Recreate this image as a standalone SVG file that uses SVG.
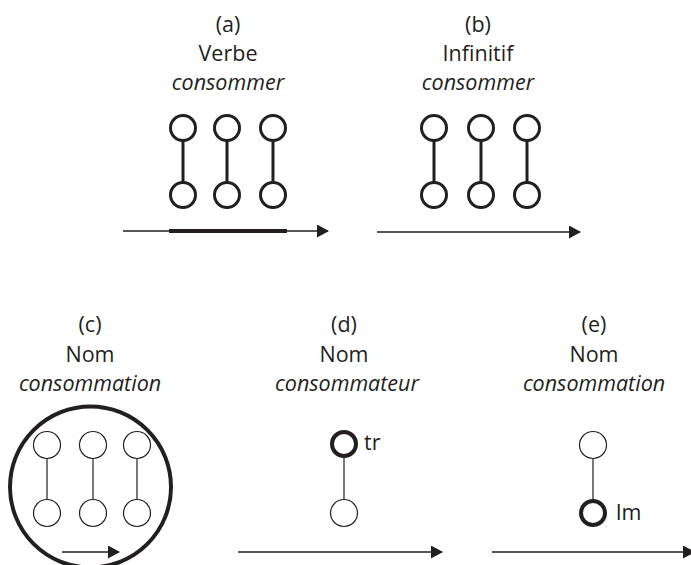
<svg xmlns="http://www.w3.org/2000/svg" width="691" height="565" viewBox="0 0 691 565">
<style>
.t{font-family:"Open Sans","Liberation Sans",sans-serif;font-size:21.5px;fill:#231f20;text-anchor:middle}
.i{font-style:italic}
.s{font-family:"Open Sans","Liberation Sans",sans-serif;font-size:21.5px;fill:#231f20}
.bold{fill:#fff;stroke:#231f20;stroke-width:3}
.thick{fill:#fff;stroke:#231f20;stroke-width:4}
.thin{fill:#fff;stroke:#231f20;stroke-width:1.2}
.lb{stroke:#231f20;stroke-width:3}
.ln{stroke:#231f20;stroke-width:1.2}
.ax{stroke:#231f20;stroke-width:1.3;fill:none;marker-end:url(#ah)}
</style>
<defs>
<marker id="ah" markerUnits="userSpaceOnUse" markerWidth="12" markerHeight="14" refX="11" refY="6.5" orient="auto">
<path d="M0,0 L12,6.5 L0,13 Z" fill="#231f20"/>
</marker>
</defs>
<g id="panel-a">
<text class="t" x="228" y="32">(a)</text>
<text class="t" x="228" y="61">Verbe</text>
<text class="t i" x="228" y="90">consommer</text>
<line class="lb" x1="183" y1="128" x2="183" y2="195"/>
<line class="lb" x1="227" y1="128" x2="227" y2="195"/>
<line class="lb" x1="273" y1="128" x2="273" y2="195"/>
<circle class="bold" cx="183" cy="128" r="12.5"/>
<circle class="bold" cx="227" cy="128" r="12.5"/>
<circle class="bold" cx="273" cy="128" r="12.5"/>
<circle class="bold" cx="183" cy="195" r="12.5"/>
<circle class="bold" cx="227" cy="195" r="12.5"/>
<circle class="bold" cx="273" cy="195" r="12.5"/>
</g>
<g id="panel-b">
<text class="t" x="478" y="32">(b)</text>
<text class="t" x="478" y="61">Infinitif</text>
<text class="t i" x="478" y="90">consommer</text>
<line class="lb" x1="434" y1="128" x2="434" y2="195"/>
<line class="lb" x1="481" y1="128" x2="481" y2="195"/>
<line class="lb" x1="527" y1="128" x2="527" y2="195"/>
<circle class="bold" cx="434" cy="128" r="12.5"/>
<circle class="bold" cx="481" cy="128" r="12.5"/>
<circle class="bold" cx="527" cy="128" r="12.5"/>
<circle class="bold" cx="434" cy="195" r="12.5"/>
<circle class="bold" cx="481" cy="195" r="12.5"/>
<circle class="bold" cx="527" cy="195" r="12.5"/>
</g>
<g id="panel-c">
<text class="t" x="90" y="332">(c)</text>
<text class="t" x="90" y="362">Nom</text>
<text class="t i" x="90" y="391">consommation</text>
<circle class="thick" cx="90.5" cy="487" r="80.5"/>
<line class="ln" x1="47" y1="445" x2="47" y2="513"/>
<line class="ln" x1="93" y1="445" x2="93" y2="513"/>
<line class="ln" x1="137" y1="445" x2="137" y2="513"/>
<circle class="thin" cx="47" cy="445" r="13.5"/>
<circle class="thin" cx="93" cy="445" r="13.5"/>
<circle class="thin" cx="137" cy="445" r="13.5"/>
<circle class="thin" cx="47" cy="513" r="13.5"/>
<circle class="thin" cx="93" cy="513" r="13.5"/>
<circle class="thin" cx="137" cy="513" r="13.5"/>
</g>
<g id="panel-d">
<text class="t" x="344" y="332">(d)</text>
<text class="t" x="344" y="362">Nom</text>
<text class="t i" x="347" y="391">consommateur</text>
<line class="ln" x1="344" y1="444" x2="344" y2="513"/>
<circle class="thick" cx="344" cy="444" r="12"/>
<circle class="thin" cx="344" cy="513" r="13.5"/>
<text class="s" x="364" y="450">tr</text>
</g>
<g id="panel-e">
<text class="t" x="594" y="332">(e)</text>
<text class="t" x="594" y="362">Nom</text>
<text class="t i" x="594" y="391">consommation</text>
<line class="ln" x1="593" y1="445" x2="593" y2="513"/>
<circle class="thin" cx="593" cy="445" r="13.5"/>
<circle class="thick" cx="593" cy="513" r="12"/>
<text class="s" x="616" y="520">lm</text>
</g>
<g id="connectors">
<line class="ax" x1="123" y1="231" x2="328" y2="231"/>
<line stroke="#231f20" stroke-width="4" x1="169" y1="231" x2="287" y2="231"/>
<line class="ax" x1="377" y1="232" x2="580" y2="232"/>
<line class="ax" x1="62" y1="552" x2="119" y2="552"/>
<line class="ax" x1="238" y1="552" x2="442" y2="552"/>
<line class="ax" x1="492" y1="552" x2="694" y2="552"/>
</g>
</svg>
